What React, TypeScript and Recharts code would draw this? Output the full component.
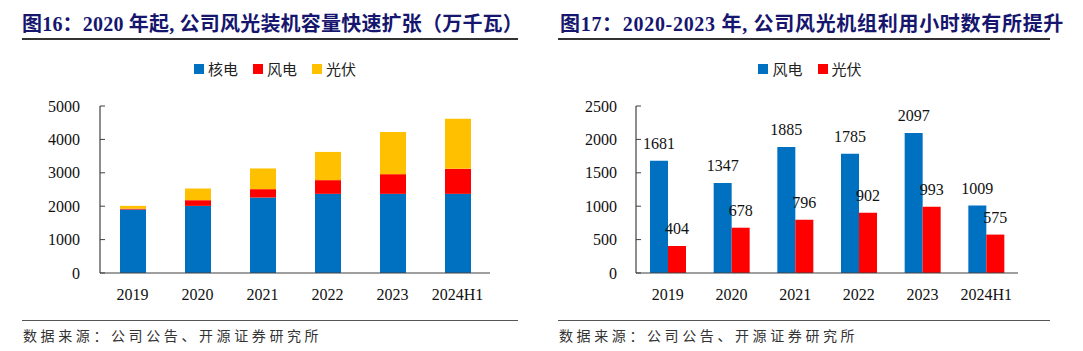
import { BarChart, Bar, XAxis, YAxis, LabelList } from 'recharts'

const years = ['2019', '2020', '2021', '2022', '2023', '2024H1']

// 图16 装机容量（万千瓦）
const nuclear = [1900, 2010, 2260, 2370, 2370, 2370]
const wind = [25, 170, 250, 410, 590, 750]
const solar = [85, 350, 620, 845, 1265, 1495]
const capTicks = [0, 1000, 2000, 3000, 4000, 5000]

// 图17 利用小时数
const windHours = [1681, 1347, 1885, 1785, 2097, 1009]
const solarHours = [404, 678, 796, 902, 993, 575]
const hourTicks = [0, 500, 1000, 1500, 2000, 2500]

const boundaryTicks = [0, 1, 2, 3, 4, 5, 6]

const BLUE = '#0070C0'
const RED = '#FF0000'
const YELLOW = '#FFC000'
const AXIS = '#404040'
const NUM_FONT = "'Liberation Serif', 'Times New Roman', serif"
const CJK_FONT = "'Liberation Serif', 'Noto Sans CJK SC', serif"

const capData = years.map((y, i) => ({ year: y, nuclear: nuclear[i], wind: wind[i], solar: solar[i] }))
const hourData = years.map((y, i) => ({ year: y, wind: windHours[i], solar: solarHours[i] }))

const tickStyle = { fontSize: 16, fill: '#111', fontFamily: NUM_FONT }

function Legend({ items, left }: { items: { name: string; color: string }[]; left: number }) {
  return (
    <div
      style={{
        position: 'absolute',
        top: 58,
        left,
        width: 540,
        display: 'flex',
        justifyContent: 'center',
        gap: 15,
        fontFamily: "'Noto Sans CJK SC', sans-serif",
        fontSize: 15,
        color: '#222',
      }}
    >
      {items.map((it) => (
        <div key={it.name} style={{ display: 'flex', alignItems: 'center', gap: 4 }}>
          <span style={{ width: 10, height: 10, background: it.color, display: 'inline-block' }} />
          <span>{it.name}</span>
        </div>
      ))}
    </div>
  )
}

function Frame({ left, lineLeft, lineWidth, title, spacing }: { left: number; lineLeft: number; lineWidth: number; title: string; spacing: number }) {
  return (
    <>
      <div
        style={{
          position: 'absolute',
          left,
          top: 8,
          fontFamily: CJK_FONT,
          fontWeight: 'bold',
          fontSize: 20,
          letterSpacing: spacing,
          color: '#16166E',
          whiteSpace: 'nowrap',
        }}
      >
        {title}
      </div>
      <div style={{ position: 'absolute', left: lineLeft, top: 38, width: lineWidth, height: 1.5, background: '#333' }} />
      <div style={{ position: 'absolute', left: lineLeft, top: 320, width: lineWidth, height: 1, background: '#555' }} />
      <div
        style={{
          position: 'absolute',
          left: lineLeft + 1,
          top: 325,
          fontFamily: "'Noto Sans CJK SC', sans-serif",
          fontSize: 14,
          letterSpacing: 3.6,
          color: '#333',
          whiteSpace: 'nowrap',
        }}
      >
        数据来源：公司公告、开源证券研究所
      </div>
    </>
  )
}

export default function App() {
  return (
    <div style={{ position: 'absolute', left: 0, top: 0, width: 1083, height: 351, background: '#fff', overflow: 'hidden' }}>
      <Frame left={22} lineLeft={22} lineWidth={496} spacing={0.2} title="图16：2020 年起, 公司风光装机容量快速扩张（万千瓦）" />
      <Frame left={560} lineLeft={558} lineWidth={492} spacing={0.7} title="图17：2020-2023 年, 公司风光机组利用小时数有所提升" />

      <Legend
        left={5}
        items={[
          { name: '核电', color: BLUE },
          { name: '风电', color: RED },
          { name: '光伏', color: YELLOW },
        ]}
      />
      <Legend
        left={540}
        items={[
          { name: '风电', color: BLUE },
          { name: '光伏', color: RED },
        ]}
      />

      <div style={{ position: 'absolute', left: 0, top: 0 }}>
        <BarChart width={540} height={310} data={capData} margin={{ top: 106, right: 50, bottom: 7, left: 0 }}>
          <XAxis
            xAxisId="grid"
            type="number"
            domain={[0, 6]}
            ticks={boundaryTicks}
            allowDataOverflow
            height={0}
            tick={false}
            axisLine={false}
            tickLine={{ stroke: AXIS, strokeWidth: 1.2 }}
            tickSize={5}
          />
          <XAxis
            xAxisId="cat"
            dataKey="year"
            height={30}
            tickLine={false}
            tickMargin={10}
            axisLine={{ stroke: AXIS, strokeWidth: 1.2 }}
            tick={tickStyle}
            interval={0}
          />
          <YAxis
            width={100}
            domain={[0, 5000]}
            ticks={capTicks}
            tickSize={-5}
            tickMargin={25}
            tick={tickStyle}
            axisLine={{ stroke: AXIS, strokeWidth: 1.2 }}
            tickLine={{ stroke: AXIS }}
          />
          <Bar xAxisId="cat" dataKey="nuclear" stackId="a" fill={BLUE} barSize={26} isAnimationActive={false} />
          <Bar xAxisId="cat" dataKey="wind" stackId="a" fill={RED} barSize={26} isAnimationActive={false} />
          <Bar xAxisId="cat" dataKey="solar" stackId="a" fill={YELLOW} barSize={26} isAnimationActive={false} />
        </BarChart>
      </div>

      <div style={{ position: 'absolute', left: 540, top: 0 }}>
        <BarChart width={543} height={310} data={hourData} margin={{ top: 106, right: 65, bottom: 7, left: 0 }} barGap={0}>
          <XAxis
            xAxisId="grid"
            type="number"
            domain={[0, 6]}
            ticks={boundaryTicks}
            allowDataOverflow
            height={0}
            tick={false}
            axisLine={false}
            tickLine={{ stroke: AXIS, strokeWidth: 1.2 }}
            tickSize={5}
          />
          <XAxis
            xAxisId="cat"
            dataKey="year"
            height={30}
            tickLine={false}
            tickMargin={10}
            axisLine={{ stroke: AXIS, strokeWidth: 1.2 }}
            tick={tickStyle}
            interval={0}
          />
          <YAxis
            width={96}
            domain={[0, 2500]}
            ticks={hourTicks}
            tickSize={-5}
            tickMargin={24}
            tick={tickStyle}
            axisLine={{ stroke: AXIS, strokeWidth: 1.2 }}
            tickLine={{ stroke: AXIS }}
          />
          <Bar xAxisId="cat" dataKey="wind" fill={BLUE} barSize={18} isAnimationActive={false}>
            <LabelList dataKey="wind" position="top" offset={12} style={{ fontSize: 16, fill: '#111', fontFamily: NUM_FONT }} />
          </Bar>
          <Bar xAxisId="cat" dataKey="solar" fill={RED} barSize={18} isAnimationActive={false}>
            <LabelList dataKey="solar" position="top" offset={12} style={{ fontSize: 16, fill: '#111', fontFamily: NUM_FONT }} />
          </Bar>
        </BarChart>
      </div>
    </div>
  )
}
